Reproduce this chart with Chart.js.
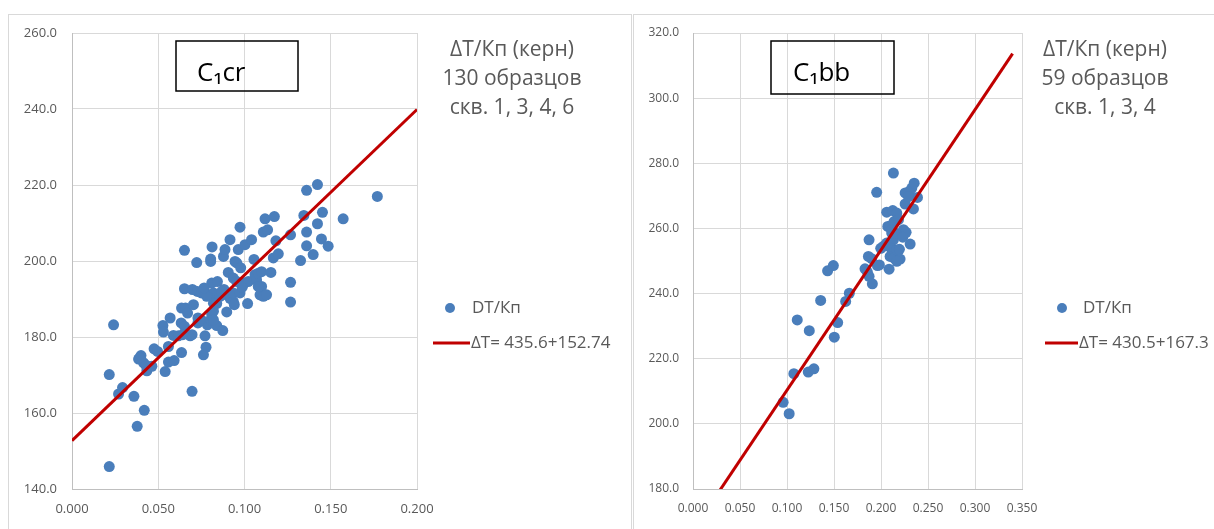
<!DOCTYPE html>
<html>
<head>
<meta charset="utf-8">
<script src="https://cdn.jsdelivr.net/npm/chart.js@4.4.1/dist/chart.umd.min.js"></script>
<style>
  body { margin: 0; background: #fff; width: 1214px; height: 529px; overflow: hidden; position: relative; }
  .frame { position: absolute; border: 1px solid #d9d9d9; box-sizing: border-box; }
  canvas { position: absolute; }
</style>
</head>
<body>
<div class="frame" style="left:8px;top:14px;width:624px;height:540px"></div>
<div class="frame" style="left:633px;top:14px;width:600px;height:540px"></div>
<canvas id="chartCr" width="623" height="515" style="left:8px;top:14px"></canvas>
<canvas id="chartBb" width="581" height="515" style="left:633px;top:14px"></canvas>

<script>
// C1cr - 130 samples (porosity / interval transit time)
const crX = [0.0241, 0.0216, 0.0216, 0.027, 0.0293, 0.0359, 0.0378, 0.0419, 0.0386, 0.040,
  0.0415, 0.0434, 0.0463, 0.0476, 0.0496, 0.054, 0.0559, 0.0559, 0.0592, 0.0527,
  0.053, 0.0569, 0.0588, 0.0617, 0.0635, 0.0633, 0.0652, 0.0685, 0.0696, 0.0696,
  0.0635, 0.0658, 0.067, 0.0704, 0.0652, 0.0698, 0.0727, 0.075, 0.0766, 0.0652,
  0.0723, 0.073, 0.073, 0.0752, 0.0771, 0.0777, 0.0762, 0.0785, 0.0804, 0.081,
  0.082, 0.0839, 0.0874, 0.081, 0.0843, 0.082, 0.0829, 0.082, 0.0804, 0.0812,
  0.0804, 0.0878, 0.0887, 0.0916, 0.0974, 0.0964, 0.1003, 0.0945, 0.0955, 0.0978,
  0.0906, 0.0935, 0.0955, 0.0881, 0.0897, 0.0916, 0.0935, 0.0941, 0.0935, 0.0974,
  0.0897, 0.0999, 0.1018, 0.1041, 0.1055, 0.1022, 0.1061, 0.107, 0.108, 0.1099,
  0.1099, 0.109, 0.1109, 0.1128, 0.1109, 0.1134, 0.1119, 0.1173, 0.1182, 0.1167,
  0.1196, 0.1153, 0.1267, 0.1267, 0.1267, 0.1325, 0.1344, 0.136, 0.1423, 0.136,
  0.136, 0.1423, 0.1452, 0.1446, 0.1485, 0.1398, 0.1572, 0.177, 0.0781, 0.0858,
  0.0868, 0.074, 0.082, 0.0987, 0.0642, 0.0392, 0.043, 0.0766, 0.108, 0.0839];
const crY = [183.2, 170.1, 145.9, 165.0, 166.7, 164.4, 156.5, 160.7, 174.2, 175.1,
  173.2, 171.1, 172.3, 176.9, 176.2, 170.9, 177.5, 173.4, 173.8, 183.0,
  181.3, 185.0, 180.4, 180.3, 175.9, 183.7, 182.8, 180.3, 180.6, 165.7,
  187.6, 187.6, 186.3, 188.5, 192.7, 192.5, 192.0, 191.6, 192.0, 202.8,
  199.6, 185.0, 183.7, 184.4, 180.3, 177.3, 175.3, 183.2, 184.5, 185.9,
  186.8, 183.0, 181.7, 194.2, 194.6, 191.6, 190.2, 188.9, 199.9, 203.7,
  200.5, 201.2, 203.0, 205.6, 208.9, 203.0, 204.3, 199.9, 199.5, 198.2,
  197.0, 195.5, 194.6, 192.5, 191.1, 190.2, 189.4, 188.5, 191.6, 191.6,
  186.6, 194.2, 188.8, 205.6, 200.4, 194.6, 196.4, 195.0, 196.8, 197.2,
  193.3, 191.1, 190.7, 191.1, 207.6, 208.2, 211.1, 211.7, 205.3, 200.8,
  201.9, 197.0, 206.9, 194.4, 189.2, 200.1, 212.0, 218.6, 220.1, 207.6,
  204.0, 209.8, 212.8, 205.8, 203.9, 201.7, 211.1, 217.0, 190.7, 190.7,
  192.0, 184.4, 184.5, 193.1, 180.6, 174.5, 172.5, 192.9, 193.3, 188.8];

// C1bb - 59 samples
const bbX = [0.0959, 0.1023, 0.1073, 0.1109, 0.1226, 0.1286, 0.1237, 0.1358, 0.1432, 0.1493,
  0.1503, 0.1539, 0.1624, 0.1663, 0.183, 0.1855, 0.1873, 0.1908, 0.1866, 0.1901,
  0.1873, 0.1954, 0.1962, 0.1983, 0.1997, 0.2026, 0.2061, 0.2086, 0.2061, 0.2125,
  0.2132, 0.2072, 0.2103, 0.2139, 0.2114, 0.2132, 0.2107, 0.2097, 0.2139, 0.2168,
  0.2186, 0.2168, 0.2196, 0.2203, 0.215, 0.2239, 0.2267, 0.2232, 0.2257, 0.2257,
  0.2303, 0.2328, 0.2353, 0.2388, 0.2345, 0.231, 0.2168, 0.2114, 0.2292];
const bbY = [206.6, 203.1, 215.4, 231.9, 215.9, 216.9, 228.6, 237.9, 247.0, 248.6,
  226.6, 231.1, 237.6, 240.1, 247.6, 246.6, 245.3, 243.0, 251.4, 250.7,
  256.5, 271.1, 248.6, 248.8, 253.9, 254.5, 255.5, 247.5, 265.0, 265.5,
  277.0, 260.6, 260.8, 262.1, 258.6, 256.5, 253.9, 251.4, 250.9, 264.7,
  262.7, 253.4, 253.6, 250.6, 258.6, 259.6, 258.8, 257.3, 267.5, 270.9,
  271.4, 272.4, 273.9, 269.5, 266.0, 255.2, 249.9, 259.6, 269.8];

// axis ticks
const crXTicks = [0, 0.05, 0.1, 0.15, 0.2];
const crYTicks = [140, 160, 180, 200, 220, 240, 260];
const bbXTicks = [0, 0.05, 0.1, 0.15, 0.2, 0.25, 0.3, 0.35];
const bbYTicks = [180, 200, 220, 240, 260, 280, 300, 320];

// regression lines  dT = a*Kp + b
const crFit = { a: 435.6, b: 152.74, xEnd: 0.2 };
const bbFit = { a: 430.5, b: 167.3, xEnd: 0.34 };

const textGrey = "#595959";
const pointBlue = "#4a7ebb";
const lineRed = "#c00000";

// text boxes, notes and legend drawn next to the plot
const notesPlugin = {
  id: "notes",
  afterDraw(chart, args, o) {
    const ctx = chart.ctx;
    const r = chart.chartArea.right;
    ctx.save();
    // formation label box
    ctx.strokeStyle = "#000";
    ctx.lineWidth = 1.5;
    ctx.strokeRect(o.box[0], o.box[1], o.box[2], o.box[3]);
    ctx.fillStyle = "#000";
    ctx.font = '26px "Open Sans", "Noto Sans", sans-serif';
    ctx.textAlign = "left";
    ctx.textBaseline = "alphabetic";
    ctx.fillText(o.title, o.titleX, 67);

    // notes
    ctx.fillStyle = textGrey;
    ctx.font = '21px "Open Sans", sans-serif';
    ctx.textAlign = "center";
    ctx.textBaseline = "middle";
    o.lines.forEach((t, i) => ctx.fillText(t, r + o.noteDx, 36 + 29 * i));

    // legend
    ctx.fillStyle = pointBlue;
    ctx.beginPath();
    ctx.arc(r + o.markDx, 294, 5, 0, Math.PI * 2);
    ctx.fill();
    ctx.strokeStyle = lineRed;
    ctx.lineWidth = 3;
    ctx.beginPath();
    ctx.moveTo(r + o.lineDx[0], 329);
    ctx.lineTo(r + o.lineDx[1], 329);
    ctx.stroke();
    ctx.fillStyle = textGrey;
    ctx.font = '17px "Open Sans", sans-serif';
    ctx.textAlign = "left";
    ctx.fillText("DT/Кп", r + o.textDx, 294);
    ctx.fillText(o.fitLabel, r + o.lineDx[1] + 1, 329);
    ctx.restore();
  }
};

// drop the axis label overhang so layout.padding alone sets the plot area
function noOverhang(s) {
  s.paddingTop = 0;
  s.paddingBottom = 0;
  s.paddingLeft = 0;
  s.paddingRight = 0;
}

function makeChart(id, xs, ys, fit, xTicks, yTicks, lay, notes) {
  const points = xs.map((x, i) => ({ x: x, y: ys[i] }));
  const fitLine = [
    { x: 0, y: fit.b },
    { x: fit.xEnd, y: fit.b + fit.a * fit.xEnd }
  ];
  return new Chart(document.getElementById(id), {
    type: "scatter",
    data: {
      datasets: [
        {
          type: "line",
          label: notes.fitLabel,
          data: fitLine,
          borderColor: lineRed,
          borderWidth: 3,
          pointRadius: 0,
          fill: false,
          clip: 0,
          order: 0
        },
        {
          label: "DT/Кп",
          data: points,
          backgroundColor: pointBlue,
          borderWidth: 0,
          pointRadius: 5.5,
          order: 1
        }
      ]
    },
    options: {
      responsive: false,
      animation: false,
      layout: { padding: { top: 19, right: lay.padRight, left: 0, bottom: 0 } },
      plugins: {
        legend: { display: false },
        tooltip: { enabled: false },
        notes: notes
      },
      scales: {
        x: {
          type: "linear",
          min: xTicks[0],
          max: xTicks[xTicks.length - 1],
          afterBuildTicks: (s) => { s.ticks = xTicks.map((v) => ({ value: v })); },
          afterFit: (s) => { s.height = 40; noOverhang(s); },
          ticks: {
            color: textGrey,
            font: { family: "Open Sans", size: lay.tickSize },
            padding: 12,
            maxRotation: 0,
            autoSkip: false,
            callback: (v) => v.toFixed(3)
          },
          grid: { color: "#d9d9d9", drawTicks: false },
          border: { color: "#bfbfbf" }
        },
        y: {
          min: yTicks[0],
          max: yTicks[yTicks.length - 1],
          afterBuildTicks: (s) => { s.ticks = yTicks.map((v) => ({ value: v })); },
          afterFit: (s) => { s.width = lay.yWidth; noOverhang(s); },
          ticks: {
            color: textGrey,
            font: { family: "Open Sans", size: lay.tickSize },
            padding: lay.yPad,
            callback: (v) => v.toFixed(1)
          },
          grid: { color: "#d9d9d9", drawTicks: false },
          border: { color: "#bfbfbf" }
        }
      }
    },
    plugins: [notesPlugin]
  });
}

makeChart("chartCr", crX, crY, crFit, crXTicks, crYTicks,
  { padRight: 214, yWidth: 64, yPad: 15, tickSize: 13 },
  {
    box: [168, 27, 122, 50], title: "C₁cr", titleX: 189,
    lines: ["ΔT/Кп (керн)", "130 образцов", "скв. 1, 3, 4, 6"], noteDx: 95,
    markDx: 33, lineDx: [16, 53], textDx: 55,
    fitLabel: "ΔT= 435.6+152.74"
  });

makeChart("chartBb", bbX, bbY, bbFit, bbXTicks, bbYTicks,
  { padRight: 192, yWidth: 60, yPad: 14, tickSize: 12 },
  {
    box: [138, 27, 123, 53], title: "C₁bb", titleX: 160,
    lines: ["ΔT/Кп (керн)", "59 образцов", "скв. 1, 3, 4"], noteDx: 83,
    markDx: 40, lineDx: [23, 56], textDx: 61,
    fitLabel: "ΔT= 430.5+167.3"
  });
</script>
</body>
</html>
